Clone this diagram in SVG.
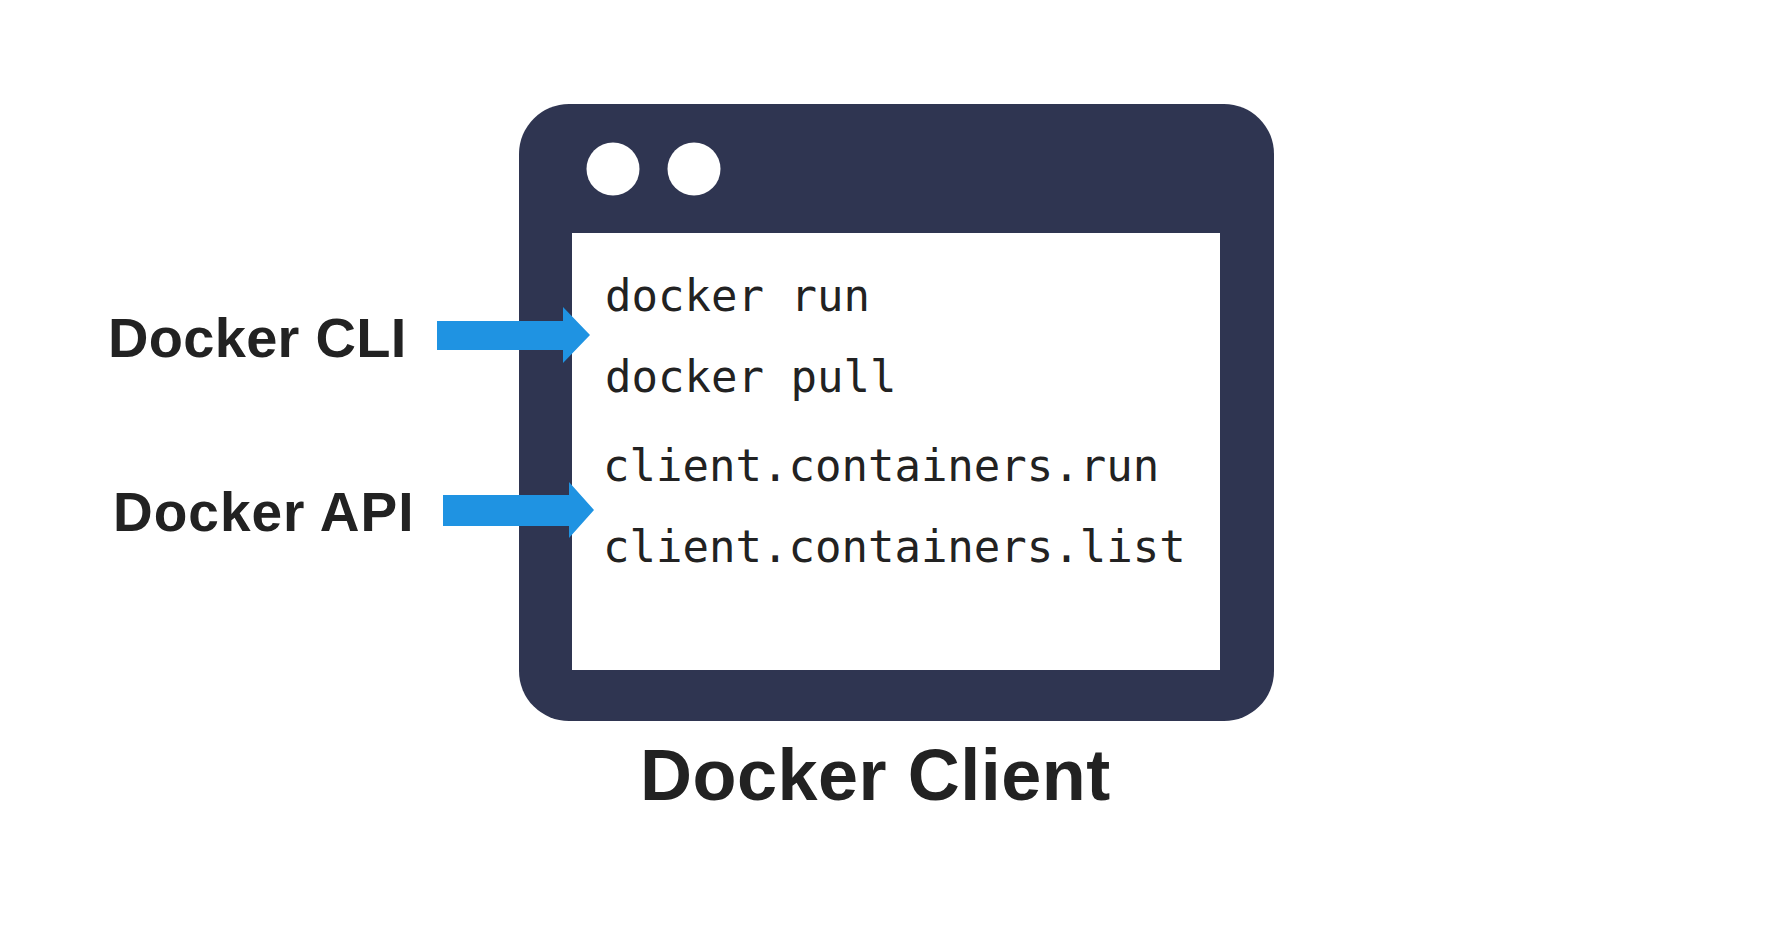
<svg xmlns="http://www.w3.org/2000/svg" width="1789" height="952" viewBox="0 0 1789 952">
<style>
.lbl{font-family:"Liberation Sans",Arial,sans-serif;font-weight:bold;fill:#222222}
.code{font-family:"DejaVu Sans Mono","Liberation Mono",monospace;font-size:44px;fill:#222222}
.arrow{fill:#1f93e2}
</style>
<rect width="1789" height="952" fill="#ffffff"/>
<g id="docker-client">
  <rect x="519" y="104" width="755" height="617" rx="50" ry="50" fill="#2f3551"/>
  <rect x="572" y="233" width="648" height="437" fill="#ffffff"/>
  <circle cx="613" cy="169" r="26.5" fill="#ffffff"/>
  <circle cx="694" cy="169" r="26.5" fill="#ffffff"/>
  <text class="code" x="605" y="311">docker run</text>
  <text class="code" x="605" y="392">docker pull</text>
  <text class="code" x="603" y="481">client.containers.run</text>
  <text class="code" x="603" y="562">client.containers.list</text>
  <text class="lbl" x="640" y="800" font-size="72" letter-spacing="0.5">Docker Client</text>
</g>
<g id="docker-cli">
  <text class="lbl" x="108" y="357" font-size="56" letter-spacing="0.3">Docker CLI</text>
</g>
<g id="docker-api">
  <text class="lbl" x="113" y="531" font-size="55" letter-spacing="1">Docker API</text>
</g>
<g id="connectors">
  <polygon class="arrow" points="437,321 563,321 563,307 590,335 563,363 563,350 437,350"/>
  <polygon class="arrow" points="443,495 569,495 569,482 594,510 569,538 569,526 443,526"/>
</g>
</svg>
